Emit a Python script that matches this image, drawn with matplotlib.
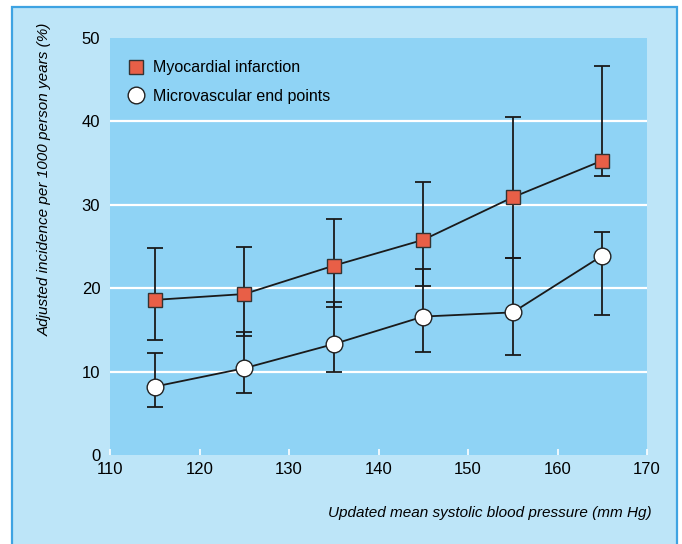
import matplotlib
matplotlib.use("Agg")
import matplotlib.pyplot as plt
from matplotlib.lines import Line2D
from matplotlib.patches import Rectangle

plt.rcParams['font.family'] = ['Liberation Sans', 'DejaVu Sans']

# Data
sbp = [115, 125, 135, 145, 155, 165]
mi = [18.6, 19.3, 22.7, 25.8, 30.9, 35.3]
mi_low = [13.8, 14.3, 17.7, 20.3, 23.6, 33.5]
mi_high = [24.8, 24.9, 28.3, 32.7, 40.5, 46.6]
mv = [8.2, 10.4, 13.3, 16.6, 17.1, 23.9]
mv_low = [5.7, 7.4, 9.9, 12.3, 12.0, 16.8]
mv_high = [12.2, 14.8, 18.3, 22.3, 23.6, 26.7]
labels = ["Myocardial infarction", "Microvascular end points"]
xticks = [110, 120, 130, 140, 150, 160, 170]
yticks = [0, 10, 20, 30, 40, 50]

W, H = 682, 544
fig = plt.figure(figsize=(W / 100, H / 100), dpi=100, facecolor='white')

# outer panel
panel = Rectangle((12 / W, -0.05), (677 - 12) / W, 1.05 - 7 / H,
                  transform=fig.transFigure, facecolor='#bde5f8',
                  edgecolor='#3ea3e2', linewidth=1.6, zorder=-10)
fig.patches.append(panel)

ax = fig.add_axes([110 / W, 89 / H, 537 / W, 417 / H])
ax.set_zorder(1)
ax.set_facecolor('#8fd3f5')
for s in ax.spines.values():
    s.set_visible(False)

ax.set_xlim(110, 170)
ax.set_ylim(0, 50)
ax.set_xticks(xticks)
ax.set_yticks(yticks)
ax.tick_params(axis='x', direction='in', length=4, width=1.2, color='white',
               labelsize=12, pad=5)
ax.tick_params(axis='y', length=0, labelsize=12, pad=7)
for y in yticks[1:-1]:
    ax.axhline(y, color='white', lw=1.6, zorder=1)

mi_err = [[m - l for m, l in zip(mi, mi_low)], [h - m for m, h in zip(mi, mi_high)]]
mv_err = [[m - l for m, l in zip(mv, mv_low)], [h - m for m, h in zip(mv, mv_high)]]

ax.errorbar(sbp, mi, yerr=mi_err, fmt='none', ecolor='#1a1a1a', elinewidth=1.3,
            capsize=5.5, capthick=1.3, zorder=2)
ax.errorbar(sbp, mv, yerr=mv_err, fmt='none', ecolor='#1a1a1a', elinewidth=1.3,
            capsize=5.5, capthick=1.3, zorder=2)
ax.plot(sbp, mi, color='#1a1a1a', lw=1.3, zorder=3)
ax.plot(sbp, mv, color='#1a1a1a', lw=1.3, zorder=3)
ax.plot(sbp, mi, ls='none', marker='s', ms=10, mfc='#e85f47', mec='#333333',
        mew=1.0, zorder=4)
ax.plot(sbp, mv, ls='none', marker='o', ms=12, mfc='white', mec='#222222',
        mew=1.0, zorder=4)

handles = [
    Line2D([], [], ls='none', marker='s', ms=10, mfc='#e85f47', mec='#333333', mew=1.0),
    Line2D([], [], ls='none', marker='o', ms=12, mfc='white', mec='#222222', mew=1.0),
]
ax.legend(handles, labels, loc='upper left', bbox_to_anchor=(0.0, 0.985),
          frameon=False, fontsize=11.5, handlelength=1.2, handletextpad=0.5,
          labelspacing=0.85, borderaxespad=0.6)

fig.text(45 / W, 1 - 179 / H, "Adjusted incidence per 1000 person years (%)",
         rotation=90, ha='center', va='center', fontsize=11, style='italic')
fig.text(652 / W, 1 - 513 / H, "Updated mean systolic blood pressure (mm Hg)",
         ha='right', va='center', fontsize=11, style='italic')

fig.savefig("out.png", dpi=100, facecolor='white')
